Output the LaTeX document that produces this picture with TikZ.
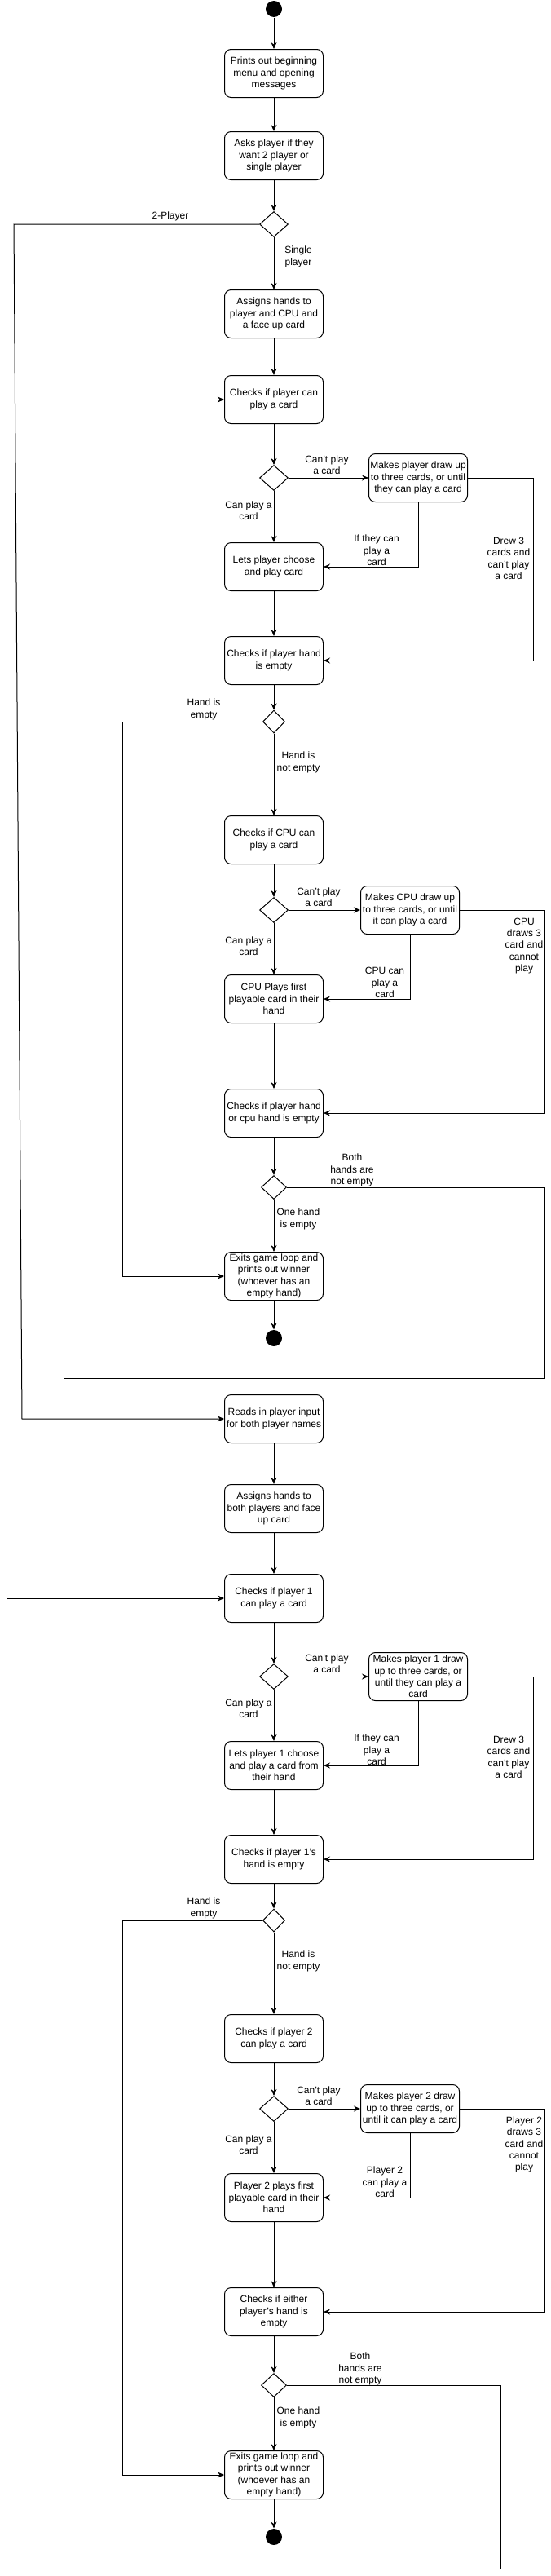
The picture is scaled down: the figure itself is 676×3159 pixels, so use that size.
\documentclass[tikz,border=0pt]{standalone}
\usepackage{fontspec}
\setmainfont{Liberation Sans}
\usetikzlibrary{shapes.geometric,arrows.meta,positioning}

\begin{document}
\begin{tikzpicture}[x=1pt,y=-1pt,
    font=\fontsize{12}{14.4}\selectfont,
    >={Stealth[length=8pt,width=7pt]},
    line width=1pt,
    activity/.style={draw,rounded corners=8pt,minimum width=121pt,minimum height=59pt,align=center,inner sep=1pt},
    decision/.style={draw,diamond,inner sep=0pt,minimum width=35pt,minimum height=31pt},
    smalldecision/.style={decision,minimum width=27pt,minimum height=28pt},
    enddecision/.style={decision,minimum width=31pt,minimum height=29pt},
    terminal/.style={circle,fill=black,inner sep=0pt,minimum size=20pt},
    guard/.style={align=center,inner sep=0pt}]
    \useasboundingbox (0,0) rectangle (676,3159);

    % single player game
    \node[terminal] (start) at (336,11) {};
    \node[activity] (menu) at (336,90) {Prints out beginning\\menu and opening\\messages};
    \node[activity] (mode) at (336,191) {Asks player if they\\want 2 player or\\single player};
    \node[decision] (dmode) at (336,275) {};
    \node[activity] (dealcpu) at (336,385) {Assigns hands to\\player and CPU and\\a face up card};
    \node[activity] (chkp) at (336,490) {Checks if player can\\play a card};
    \node[decision] (dp) at (336,586) {};
    \node[activity] (drawp) at (513,586) {Makes player draw up\\to three cards, or until\\they can play a card};
    \node[activity] (playp) at (336,695) {Lets player choose\\and play card};
    \node[activity] (emptyp) at (336,810) {Checks if player hand\\is empty};
    \node[smalldecision] (dep) at (336,885) {};
    \node[activity] (chkcpu) at (336,1030) {Checks if CPU can\\play a card};
    \node[decision] (dcpu) at (336,1116) {};
    \node[activity] (drawcpu) at (503,1116) {Makes CPU draw up\\to three cards, or until\\it can play a card};
    \node[activity] (playcpu) at (336,1225) {CPU Plays first\\playable card in their\\hand};
    \node[activity] (emptyboth) at (336,1365) {Checks if player hand\\or cpu hand is empty};
    \node[enddecision] (deb) at (336,1456) {};
    \node[activity] (exitone) at (336,1565) {Exits game loop and\\prints out winner\\(whoever has an\\empty hand)};
    \node[terminal] (endone) at (336,1641) {};

    % two player game
    \node[activity] (names) at (336,1740) {Reads in player input\\for both player names};
    \node[activity] (dealtwo) at (336,1850) {Assigns hands to\\both players and face\\up card};
    \node[activity] (chkpa) at (336,1960) {Checks if player 1\\can play a card};
    \node[decision] (dpa) at (336,2056) {};
    \node[activity] (drawpa) at (513,2056) {Makes player 1 draw\\up to three cards, or\\until they can play a\\card};
    \node[activity] (playpa) at (336,2165) {Lets player 1 choose\\and play a card from\\their hand};
    \node[activity] (emptypa) at (336,2280) {Checks if player 1's\\hand is empty};
    \node[smalldecision] (depa) at (336,2355) {};
    \node[activity] (chkpb) at (336,2500) {Checks if player 2\\can play a card};
    \node[decision] (dpb) at (336,2586) {};
    \node[activity] (drawpb) at (503,2586) {Makes player 2 draw\\up to three cards, or\\until it can play a card};
    \node[activity] (playpb) at (336,2695) {Player 2 plays first\\playable card in their\\hand};
    \node[activity] (emptyeither) at (336,2835) {Checks if either\\player's hand is\\empty};
    \node[enddecision] (dee) at (336,2925) {};
    \node[activity] (exittwo) at (336,3035) {Exits game loop and\\prints out winner\\(whoever has an\\empty hand)};
    \node[terminal] (endtwo) at (336,3111) {};

    % guards
    \node[guard] (gtwo) at (209,265) {2-Player};
    \node[guard] (gsingle) at (366,315) {Single\\player};
    \node[guard] (gcant) at (401,570) {Can't play\\a card};
    \node[guard] (gcan) at (305,626) {Can play a\\card};
    \node[guard] (gif) at (462,675) {If they can\\play a\\card};
    \node[guard] (gdrew) at (624,685) {Drew 3\\cards and\\can't play\\a card};
    \node[guard] (gempty) at (250,870) {Hand is\\empty};
    \node[guard] (gnotempty) at (366,935) {Hand is\\not empty};
    \node[guard] (gcpucant) at (391,1100) {Can't play\\a card};
    \node[guard] (gcpucan) at (305,1160) {Can play a\\card};
    \node[guard] (gcpuif) at (472,1205) {CPU can\\play a\\card};
    \node[guard] (gcpudrew) at (643,1160) {CPU\\draws 3\\card and\\cannot\\play};
    \node[guard] (gboth) at (432,1435) {Both\\hands are\\not empty};
    \node[guard] (gone) at (366,1495) {One hand\\is empty};
    \node[guard] (gacant) at (401,2040) {Can't play\\a card};
    \node[guard] (gacan) at (305,2095) {Can play a\\card};
    \node[guard] (gaif) at (462,2146) {If they can\\play a\\card};
    \node[guard] (gadrew) at (624,2155) {Drew 3\\cards and\\can't play\\a card};
    \node[guard] (gaempty) at (250,2340) {Hand is\\empty};
    \node[guard] (ganotempty) at (366,2405) {Hand is\\not empty};
    \node[guard] (gbcant) at (391,2570) {Can't play\\a card};
    \node[guard] (gbcan) at (305,2630) {Can play a\\card};
    \node[guard] (gbif) at (472,2676) {Player 2\\can play a\\card};
    \node[guard] (gbdrew) at (643,2630) {Player 2\\draws 3\\card and\\cannot\\play};
    \node[guard] (gboth2) at (442,2905) {Both\\hands are\\not empty};
    \node[guard] (gone2) at (366,2965) {One hand\\is empty};

    % flow, single player
    \draw[->] (start) -- (menu);
    \draw[->] (menu) -- (mode);
    \draw[->] (mode) -- (dmode);
    \draw[->] (dmode) -- (dealcpu);
    \draw[->] (dealcpu) -- (chkp);
    \draw[->] (chkp) -- (dp);
    \draw[->] (dp) -- (drawp);
    \draw[->] (dp) -- (playp);
    \draw[->] (drawp.south) |- (playp.east);
    \draw[->] (drawp.east) -- (654,586) |- (emptyp.east);
    \draw[->] (playp) -- (emptyp);
    \draw[->] (emptyp) -- (dep);
    \draw[->] (dep.west) -- (150,885) |- (exitone.west);
    \draw[->] (dep) -- (chkcpu);
    \draw[->] (chkcpu) -- (dcpu);
    \draw[->] (dcpu) -- (drawcpu);
    \draw[->] (dcpu) -- (playcpu);
    \draw[->] (drawcpu.south) |- (playcpu.east);
    \draw[->] (drawcpu.east) -- (668,1116) |- (emptyboth.east);
    \draw[->] (playcpu) -- (emptyboth);
    \draw[->] (emptyboth) -- (deb);
    \draw[->] (deb) -- (exitone);
    \draw[->] (deb.east) -- (668,1456) -- (668,1690) -- (78,1690) |- (chkp.west);
    \draw[->] (exitone) -- (endone);

    % flow, two player
    \draw[->] (dmode.west) -- (17,275) -- (27,1740) -- (names.west);
    \draw[->] (names) -- (dealtwo);
    \draw[->] (dealtwo) -- (chkpa);
    \draw[->] (chkpa) -- (dpa);
    \draw[->] (dpa) -- (drawpa);
    \draw[->] (dpa) -- (playpa);
    \draw[->] (drawpa.south) |- (playpa.east);
    \draw[->] (drawpa.east) -- (654,2056) |- (emptypa.east);
    \draw[->] (playpa) -- (emptypa);
    \draw[->] (emptypa) -- (depa);
    \draw[->] (depa.west) -- (150,2355) |- (exittwo.west);
    \draw[->] (depa) -- (chkpb);
    \draw[->] (chkpb) -- (dpb);
    \draw[->] (dpb) -- (drawpb);
    \draw[->] (dpb) -- (playpb);
    \draw[->] (drawpb.south) |- (playpb.east);
    \draw[->] (drawpb.east) -- (668,2586) |- (emptyeither.east);
    \draw[->] (playpb) -- (emptyeither);
    \draw[->] (emptyeither) -- (dee);
    \draw[->] (dee) -- (exittwo);
    \draw[->] (dee.east) -- (614,2925) -- (614,3150) -- (8,3150) |- (chkpa.west);
    \draw[->] (exittwo) -- (endtwo);
\end{tikzpicture}
\end{document}
